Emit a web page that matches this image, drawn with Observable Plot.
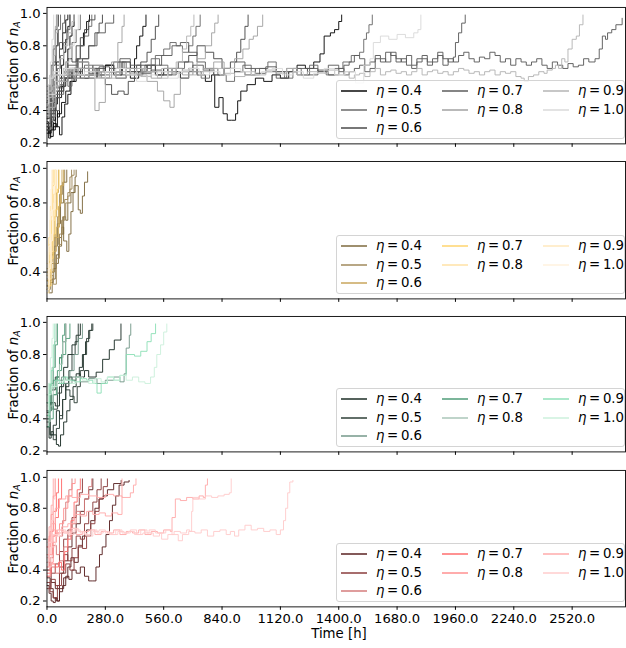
<!DOCTYPE html>
<html>
<head>
<meta charset="utf-8">
<script src="https://cdn.jsdelivr.net/npm/d3@7"></script>
<script src="https://cdn.jsdelivr.net/npm/@observablehq/plot@0.6"></script>
<style>
  body { margin: 0; background: #fff; font-family: "DejaVu Sans", sans-serif; }
  #fig { position: relative; width: 626px; height: 648px; overflow: hidden; }
  .panel { position: absolute; left: 0; }
  .ylab { position: absolute; white-space: nowrap; font-size: 13.3px; transform: translate(-50%, -50%) rotate(-90deg); }
  .ylab sub { font-size: 70%; vertical-align: -0.25em; }
  .xlab { position: absolute; white-space: nowrap; font-size: 13.3px; transform: translate(-50%, -50%); }
  .legend { position: absolute; left: 336px; width: 287px; height: 57px; border: 1px solid #d4d4d4; border-radius: 3px; background: rgba(255,255,255,0.8); }
  .item { position: absolute; height: 16px; font-size: 13.3px; line-height: 16px; white-space: nowrap; }
  .item svg { position: absolute; left: 0; top: 3px; }
  .item span { position: absolute; left: 35px; top: 0; }
</style>
</head>
<body>
<div id="fig"></div>
<script>
// Noise strength values, one colour per value in each panel
const etas = [0.4, 0.5, 0.6, 0.7, 0.8, 0.9, 1.0];
const greyShades  = ["#0a0a0a", "#6a6a6a", "#4a4a4a", "#5c5c5c", "#a2a2a2", "#b4b4b4", "#dadada"];
const goldShades  = ["#7e6a3e", "#a08a5c", "#c9a65c", "#ffd46e", "#ffe2a6", "#ffe9be", "#fff2de"];
const greenShades = ["#1c2e26", "#2e3f37", "#74998a", "#4f9c78", "#aac6b8", "#8fe0b8", "#ccf0dc"];
const redShades   = ["#5a2222", "#8a3c3c", "#d47c7c", "#ff6e6e", "#ff9090", "#ffabab", "#ffcccc"];

const xTicks = [0, 280, 560, 840, 1120, 1400, 1680, 1960, 2240, 2520];
const yTicksFull = [0.2, 0.4, 0.6, 0.8, 1.0];
const yTicksUpper = [0.4, 0.6, 0.8, 1.0];

// Each run: [eta, [t0, v0, t1, v1, ...]] with t in hours and v the fraction of n_A
const greyRuns = [
  [0.4, [0,0.30, 10,0.26, 20,0.33, 30,0.28, 40,0.40, 50,0.36, 60,0.48, 70,0.55, 80,0.62, 90,0.70, 100,0.78, 110,0.86, 120,0.92, 130,0.99]],
  [0.4, [0,0.33, 8,0.23, 18,0.28, 30,0.32, 45,0.30, 60,0.25, 72,0.36, 85,0.44, 100,0.50, 115,0.58, 130,0.66, 145,0.72, 160,0.80, 175,0.88, 190,0.95, 204,0.99]],
  [0.4, [0,0.42, 15,0.52, 30,0.60, 45,0.70, 60,0.78, 75,0.88, 90,0.96, 100,0.99]],
  [0.4, [0,0.26, 10,0.30, 20,0.36, 30,0.34, 40,0.44, 50,0.52, 60,0.60, 70,0.68, 80,0.76, 90,0.84, 100,0.92, 110,0.99]],
  [0.5, [0,0.38, 20,0.45, 40,0.40, 60,0.52, 80,0.60, 100,0.55, 120,0.65, 140,0.72, 160,0.80, 180,0.86, 200,0.92, 215,0.99]],
  [0.5, [0,0.50, 15,0.62, 30,0.70, 45,0.80, 55,0.90, 65,0.99]],
  [0.5, [0,0.28, 15,0.34, 30,0.40, 45,0.48, 60,0.56, 80,0.64, 100,0.72, 120,0.82, 140,0.90, 160,0.99]],
  [0.5, [0,0.42, 10,0.50, 20,0.46, 35,0.58, 50,0.66, 65,0.74, 80,0.82, 95,0.90, 110,0.99]],
  [0.6, [0,0.45, 20,0.55, 40,0.62, 60,0.58, 80,0.66, 100,0.72, 120,0.70, 140,0.80, 160,0.85, 180,0.90, 200,0.96, 230,0.99]],
  [0.6, [0,0.35, 10,0.45, 20,0.55, 30,0.68, 40,0.80, 50,0.92, 55,0.99]],
  [0.6, [0,0.32, 20,0.38, 40,0.48, 60,0.52, 80,0.60, 110,0.66, 140,0.64, 170,0.72, 200,0.80, 230,0.88, 250,0.94, 266,0.99]],
  [0.7, [0,0.40, 20,0.55, 50,0.62, 100,0.68, 150,0.72, 200,0.80, 240,0.88, 280,0.94, 320,0.99]],
  [0.7, [0,0.30, 15,0.42, 30,0.56, 45,0.68, 60,0.82, 75,0.94, 85,0.99]],
  [0.7, [0,0.46, 10,0.56, 20,0.68, 30,0.78, 40,0.90, 48,0.99]],
  [0.8, [0,0.55, 30,0.62, 60,0.58, 100,0.65, 150,0.70, 200,0.62, 230,0.40, 250,0.45, 280,0.60, 310,0.70, 340,0.82, 360,0.92, 370,0.99]],
  [0.8, [0,0.40, 10,0.52, 20,0.66, 30,0.80, 40,0.92, 45,0.99]],
  [0.9, [0,0.36, 10,0.48, 20,0.62, 30,0.74, 40,0.88, 50,0.99]],
  [0.9, [0,0.52, 20,0.60, 40,0.64, 60,0.72, 80,0.80, 100,0.88, 120,0.95, 130,0.99]],
  [1.0, [0,0.44, 8,0.56, 16,0.70, 24,0.84, 32,0.99]],
  [1.0, [0,0.60, 30,0.64, 60,0.62, 90,0.70, 110,0.80, 130,0.90, 150,0.99]],
  [0.4, [0,0.32, 20,0.40, 40,0.48, 60,0.55, 90,0.60, 120,0.64, 160,0.60, 200,0.66, 240,0.62, 280,0.68, 320,0.64, 360,0.70, 400,0.66, 420,0.72, 430,0.80, 445,0.86, 460,0.92, 475,0.99]],
  [0.6, [0,0.45, 40,0.58, 80,0.64, 120,0.60, 160,0.66, 200,0.62, 240,0.60, 280,0.56, 310,0.50, 340,0.52, 370,0.50, 390,0.58, 420,0.64, 450,0.70, 480,0.76, 500,0.84, 520,0.92, 536,0.99]],
  [0.9, [0,0.42, 40,0.58, 80,0.62, 130,0.66, 180,0.62, 230,0.64, 280,0.60, 330,0.64, 380,0.62, 430,0.66, 480,0.64, 530,0.60, 580,0.64, 620,0.70, 650,0.78, 670,0.86, 690,0.92, 705,0.99]],
  [0.5, [0,0.36, 40,0.50, 80,0.60, 120,0.66, 170,0.62, 220,0.68, 270,0.64, 320,0.70, 370,0.66, 420,0.64, 470,0.68, 520,0.74, 560,0.78, 590,0.82, 620,0.80, 650,0.76, 680,0.80, 700,0.86, 715,0.92, 735,0.99]],
  [0.8, [0,0.48, 40,0.58, 80,0.64, 130,0.60, 180,0.66, 230,0.62, 280,0.64, 330,0.60, 380,0.66, 430,0.62, 480,0.58, 530,0.52, 560,0.46, 590,0.42, 610,0.50, 640,0.60, 680,0.66, 720,0.72, 760,0.80, 790,0.88, 805,0.94, 821,0.99]],
  [0.6, [0,0.40, 40,0.54, 80,0.62, 130,0.66, 180,0.62, 230,0.66, 280,0.64, 330,0.60, 380,0.64, 430,0.68, 480,0.64, 530,0.62, 580,0.66, 630,0.70, 680,0.74, 720,0.80, 760,0.76, 800,0.72, 840,0.66, 880,0.70, 910,0.76, 930,0.84, 950,0.92, 965,0.99]],
  [0.8, [0,0.52, 50,0.62, 100,0.66, 150,0.62, 200,0.64, 250,0.60, 300,0.64, 350,0.66, 400,0.62, 450,0.64, 500,0.60, 550,0.64, 600,0.66, 650,0.62, 700,0.64, 750,0.66, 800,0.70, 850,0.66, 900,0.72, 940,0.78, 970,0.84, 990,0.86, 1010,0.92, 1035,0.99]],
  [0.4, [0,0.28, 15,0.24, 30,0.30, 50,0.38, 70,0.45, 90,0.52, 110,0.58, 140,0.62, 170,0.66, 200,0.60, 240,0.64, 280,0.68, 320,0.62, 360,0.66, 400,0.60, 440,0.64, 480,0.68, 520,0.62, 560,0.66, 600,0.64, 640,0.60, 680,0.66, 720,0.62, 760,0.58, 790,0.62, 805,0.42, 825,0.48, 845,0.38, 865,0.34, 885,0.34, 905,0.38, 915,0.46, 930,0.52, 960,0.56, 1000,0.60, 1040,0.58, 1080,0.62, 1120,0.60, 1160,0.64, 1200,0.68, 1240,0.66, 1280,0.70, 1310,0.75, 1330,0.86, 1360,0.88, 1380,0.90, 1400,0.95, 1414,0.99]],
  [0.5, [0,0.35, 20,0.45, 40,0.55, 70,0.60, 100,0.66, 140,0.62, 180,0.68, 220,0.64, 260,0.60, 300,0.66, 340,0.70, 380,0.64, 420,0.62, 460,0.66, 500,0.72, 540,0.68, 580,0.62, 620,0.66, 660,0.70, 700,0.64, 740,0.60, 780,0.66, 820,0.62, 860,0.58, 900,0.64, 940,0.68, 980,0.62, 1020,0.66, 1060,0.70, 1100,0.64, 1140,0.60, 1180,0.66, 1220,0.62, 1260,0.68, 1300,0.64, 1340,0.62, 1380,0.66, 1420,0.70, 1460,0.74, 1500,0.76, 1520,0.84, 1533,0.88, 1545,0.93, 1561,0.99]],
  [1.0, [0,0.50, 40,0.62, 80,0.66, 130,0.62, 180,0.64, 230,0.60, 280,0.64, 330,0.66, 380,0.62, 430,0.58, 480,0.62, 530,0.64, 580,0.60, 630,0.64, 680,0.66, 730,0.62, 780,0.64, 830,0.62, 880,0.66, 930,0.64, 980,0.62, 1030,0.64, 1080,0.66, 1130,0.62, 1180,0.64, 1230,0.60, 1280,0.63, 1330,0.66, 1380,0.62, 1430,0.64, 1480,0.57, 1520,0.68, 1550,0.72, 1566,0.82, 1600,0.86, 1640,0.84, 1680,0.87, 1720,0.85, 1760,0.88, 1780,0.90, 1794,0.99]],
  [0.7, [0,0.40, 30,0.52, 60,0.60, 100,0.64, 150,0.70, 200,0.66, 250,0.62, 300,0.66, 350,0.72, 400,0.68, 450,0.64, 500,0.68, 550,0.74, 600,0.80, 640,0.82, 680,0.76, 720,0.70, 760,0.66, 800,0.62, 850,0.66, 900,0.64, 950,0.62, 1000,0.66, 1050,0.64, 1100,0.60, 1150,0.64, 1200,0.66, 1250,0.62, 1300,0.65, 1350,0.68, 1400,0.64, 1425,0.68, 1450,0.70, 1475,0.74, 1500,0.72, 1525,0.68, 1550,0.70, 1575,0.74, 1600,0.72, 1625,0.70, 1650,0.76, 1675,0.72, 1700,0.70, 1725,0.74, 1750,0.68, 1775,0.72, 1800,0.74, 1825,0.70, 1850,0.72, 1875,0.76, 1900,0.72, 1925,0.70, 1950,0.73, 1960,0.82, 1975,0.88, 1990,0.94, 2007,0.99]],
  [0.9, [0,0.45, 30,0.55, 60,0.62, 100,0.66, 150,0.62, 200,0.60, 250,0.64, 300,0.62, 350,0.66, 400,0.63, 450,0.61, 500,0.64, 550,0.66, 600,0.63, 650,0.65, 700,0.62, 750,0.64, 800,0.66, 850,0.63, 900,0.61, 950,0.64, 1000,0.62, 1050,0.65, 1100,0.63, 1150,0.66, 1200,0.62, 1250,0.64, 1300,0.63, 1350,0.65, 1400,0.62, 1425,0.64, 1450,0.60, 1475,0.62, 1500,0.63, 1525,0.61, 1550,0.64, 1575,0.66, 1600,0.62, 1625,0.64, 1650,0.65, 1675,0.63, 1700,0.64, 1725,0.62, 1750,0.64, 1775,0.66, 1800,0.62, 1825,0.64, 1850,0.65, 1875,0.63, 1900,0.64, 1925,0.62, 1950,0.64, 1975,0.66, 2000,0.65, 2025,0.63, 2050,0.64, 2075,0.62, 2100,0.64, 2125,0.65, 2150,0.62, 2175,0.64, 2200,0.63, 2225,0.64, 2250,0.61, 2275,0.60, 2290,0.58, 2310,0.61, 2335,0.62, 2360,0.64, 2385,0.63, 2400,0.65, 2425,0.66, 2440,0.68, 2455,0.66, 2470,0.72, 2485,0.70, 2500,0.78, 2520,0.84, 2540,0.86, 2555,0.93, 2572,0.99]],
  [0.7, [0,0.38, 30,0.48, 60,0.58, 100,0.62, 150,0.66, 200,0.63, 250,0.67, 300,0.64, 350,0.62, 400,0.66, 450,0.63, 500,0.65, 550,0.62, 600,0.66, 650,0.64, 700,0.68, 750,0.65, 800,0.62, 850,0.66, 900,0.70, 950,0.66, 1000,0.63, 1050,0.67, 1100,0.64, 1150,0.66, 1200,0.62, 1250,0.66, 1300,0.64, 1350,0.62, 1400,0.66, 1425,0.62, 1450,0.64, 1475,0.66, 1500,0.68, 1525,0.64, 1550,0.66, 1575,0.72, 1600,0.70, 1625,0.76, 1650,0.74, 1675,0.70, 1700,0.72, 1725,0.68, 1750,0.66, 1775,0.70, 1800,0.72, 1825,0.68, 1850,0.70, 1875,0.74, 1900,0.68, 1925,0.72, 1950,0.70, 1975,0.74, 2000,0.76, 2025,0.72, 2050,0.70, 2075,0.73, 2100,0.72, 2125,0.76, 2150,0.74, 2175,0.70, 2200,0.72, 2225,0.68, 2250,0.72, 2275,0.70, 2300,0.68, 2325,0.70, 2350,0.72, 2375,0.68, 2400,0.66, 2425,0.70, 2450,0.68, 2475,0.66, 2500,0.69, 2525,0.67, 2550,0.68, 2575,0.72, 2600,0.70, 2630,0.72, 2650,0.78, 2665,0.86, 2680,0.84, 2690,0.88, 2710,0.90, 2730,0.93, 2760,0.97]]
];

const goldRuns = [
  [0.4, [0,0.32, 10,0.28, 25,0.36, 40,0.45, 55,0.55, 70,0.62, 80,0.72, 90,0.70, 100,0.80, 115,0.86, 130,0.90, 150,0.76, 160,0.74, 170,0.84, 180,0.92, 195,0.98]],
  [0.4, [0,0.30, 15,0.34, 30,0.42, 45,0.50, 60,0.60, 70,0.66, 80,0.58, 95,0.52, 105,0.62, 115,0.75, 125,0.86, 135,0.95, 140,0.99]],
  [0.4, [0,0.35, 20,0.40, 35,0.55, 50,0.68, 65,0.80, 80,0.92, 95,0.99]],
  [0.5, [0,0.30, 15,0.38, 30,0.33, 45,0.48, 60,0.62, 75,0.72, 90,0.80, 100,0.86, 110,0.88, 120,0.96, 130,0.99]],
  [0.5, [0,0.40, 20,0.50, 35,0.60, 50,0.72, 60,0.85, 75,0.92, 85,0.99]],
  [0.5, [0,0.36, 20,0.45, 40,0.60, 55,0.56, 70,0.70, 85,0.82, 100,0.84, 110,0.95, 118,0.99]],
  [0.6, [0,0.32, 15,0.40, 30,0.52, 45,0.66, 60,0.80, 70,0.90, 80,0.99]],
  [0.6, [0,0.38, 10,0.46, 25,0.58, 35,0.72, 45,0.86, 55,0.99]],
  [0.6, [0,0.42, 15,0.50, 30,0.62, 40,0.60, 55,0.78, 65,0.90, 72,0.99]],
  [0.7, [0,0.30, 8,0.40, 16,0.55, 24,0.70, 32,0.85, 40,0.99]],
  [0.7, [0,0.35, 10,0.32, 20,0.48, 30,0.62, 40,0.76, 50,0.88, 58,0.99]],
  [0.7, [0,0.40, 10,0.56, 20,0.72, 28,0.90, 34,0.99]],
  [0.8, [0,0.28, 10,0.36, 20,0.52, 30,0.70, 38,0.86, 45,0.99]],
  [0.8, [0,0.45, 8,0.60, 16,0.78, 24,0.92, 30,0.99]],
  [0.9, [0,0.33, 12,0.45, 22,0.62, 32,0.80, 40,0.99]],
  [0.9, [0,0.38, 6,0.52, 14,0.70, 20,0.88, 26,0.99]],
  [1.0, [0,0.30, 10,0.42, 18,0.58, 26,0.76, 34,0.90, 40,0.99]],
  [1.0, [0,0.36, 8,0.55, 16,0.75, 22,0.99]]
];

const greenRuns = [
  [0.4, [0,0.35, 10,0.28, 20,0.32, 30,0.30, 45,0.24, 55,0.23, 65,0.30, 80,0.38, 95,0.45, 110,0.52, 125,0.60, 140,0.66, 155,0.72, 170,0.80, 185,0.88, 200,0.95, 215,0.99]],
  [0.4, [0,0.40, 15,0.30, 30,0.36, 45,0.45, 60,0.40, 75,0.52, 90,0.60, 105,0.66, 120,0.64, 140,0.68, 160,0.66, 180,0.70, 200,0.66, 236,0.69, 267,0.77, 299,0.83, 323,0.89, 355,0.99]],
  [0.4, [0,0.45, 20,0.50, 40,0.48, 60,0.60, 80,0.72, 100,0.80, 120,0.86, 140,0.92, 160,0.99]],
  [0.5, [0,0.38, 15,0.30, 30,0.27, 45,0.34, 60,0.42, 75,0.52, 90,0.62, 105,0.70, 120,0.80, 135,0.88, 150,0.99]],
  [0.5, [0,0.44, 15,0.50, 30,0.46, 50,0.56, 70,0.62, 90,0.58, 110,0.54, 130,0.50, 145,0.60, 160,0.70, 175,0.80, 190,0.90, 205,0.95, 220,0.99]],
  [0.5, [0,0.50, 20,0.58, 40,0.66, 60,0.78, 75,0.88, 90,0.99]],
  [0.6, [0,0.40, 15,0.46, 30,0.55, 50,0.62, 70,0.66, 90,0.64, 110,0.70, 130,0.80, 150,0.90, 170,0.99]],
  [0.6, [0,0.55, 20,0.60, 50,0.64, 80,0.62, 120,0.66, 160,0.63, 200,0.65, 240,0.62, 280,0.64, 320,0.66, 350,0.63, 370,0.68, 380,0.84, 395,0.92, 402,0.99]],
  [0.7, [0,0.35, 10,0.45, 20,0.58, 30,0.72, 40,0.86, 50,0.99]],
  [0.7, [0,0.42, 15,0.40, 30,0.55, 45,0.66, 60,0.78, 75,0.92, 85,0.99]],
  [0.7, [0,0.50, 15,0.62, 30,0.64, 50,0.70, 70,0.80, 90,0.90, 110,0.99]],
  [0.8, [0,0.45, 12,0.58, 24,0.72, 36,0.88, 45,0.99]],
  [0.8, [0,0.38, 15,0.48, 30,0.60, 45,0.64, 60,0.74, 75,0.88, 90,0.99]],
  [0.9, [0,0.50, 10,0.62, 20,0.60, 40,0.64, 60,0.62, 80,0.66, 100,0.64, 130,0.63, 160,0.65, 190,0.64, 220,0.62, 240,0.56, 260,0.62, 290,0.66, 320,0.64, 350,0.67, 380,0.80, 420,0.79, 450,0.82, 480,0.88, 500,0.93, 521,0.99]],
  [0.9, [0,0.42, 10,0.56, 20,0.70, 30,0.86, 38,0.99]],
  [1.0, [0,0.55, 20,0.60, 50,0.63, 80,0.64, 110,0.62, 140,0.66, 170,0.64, 200,0.62, 230,0.65, 260,0.63, 290,0.66, 320,0.64, 350,0.67, 380,0.64, 410,0.66, 440,0.63, 470,0.62, 497,0.66, 515,0.72, 527,0.80, 545,0.86, 560,0.94, 575,0.99]],
  [1.0, [0,0.48, 8,0.62, 16,0.78, 24,0.90, 30,0.99]]
];

const redRuns = [
  [0.4, [0,0.30, 10,0.25, 20,0.20, 30,0.19, 40,0.22, 50,0.20, 60,0.26, 75,0.30, 90,0.36, 105,0.34, 120,0.40, 140,0.38, 160,0.42, 180,0.36, 200,0.33, 220,0.33, 235,0.42, 252,0.50, 265,0.55, 283,0.63, 300,0.72, 314,0.82, 330,0.88, 346,0.95, 370,0.97, 394,0.98]],
  [0.4, [0,0.35, 15,0.28, 30,0.22, 45,0.20, 60,0.28, 80,0.35, 100,0.42, 115,0.48, 130,0.45, 150,0.55, 170,0.62, 190,0.66, 210,0.72, 230,0.80, 250,0.86, 270,0.88, 290,0.92, 320,0.96, 356,0.98]],
  [0.4, [0,0.40, 20,0.32, 40,0.28, 60,0.38, 80,0.46, 100,0.55, 120,0.64, 140,0.70, 160,0.78, 180,0.86, 200,0.92, 220,0.99]],
  [0.5, [0,0.32, 15,0.26, 30,0.22, 50,0.30, 70,0.38, 90,0.44, 110,0.40, 130,0.48, 150,0.56, 170,0.54, 190,0.62, 210,0.70, 230,0.78, 250,0.86, 270,0.94, 290,0.99]],
  [0.5, [0,0.45, 20,0.38, 40,0.44, 60,0.52, 80,0.60, 100,0.66, 120,0.74, 140,0.82, 155,0.90, 170,0.99]],
  [0.5, [0,0.28, 20,0.34, 40,0.30, 60,0.42, 80,0.50, 100,0.46, 120,0.54, 140,0.62, 160,0.60, 180,0.70, 200,0.78, 220,0.84, 240,0.92, 260,0.99]],
  [0.6, [0,0.40, 15,0.48, 30,0.56, 45,0.50, 60,0.62, 75,0.72, 90,0.84, 105,0.92, 120,0.99]],
  [0.6, [0,0.36, 20,0.42, 40,0.38, 60,0.46, 80,0.55, 100,0.62, 120,0.70, 140,0.78, 160,0.76, 180,0.86, 200,0.94, 215,0.99]],
  [0.7, [0,0.42, 10,0.50, 25,0.62, 40,0.74, 55,0.86, 70,0.99]],
  [0.7, [0,0.38, 20,0.44, 40,0.42, 55,0.45, 70,0.40, 85,0.52, 100,0.60, 115,0.72, 130,0.84, 145,0.92, 160,0.99]],
  [0.7, [0,0.55, 15,0.65, 30,0.78, 45,0.90, 55,0.99]],
  [0.8, [0,0.50, 10,0.62, 20,0.76, 30,0.88, 40,0.99]],
  [0.8, [0,0.36, 15,0.45, 30,0.58, 45,0.64, 60,0.70, 80,0.80, 100,0.88, 120,0.96, 135,0.99]],
  [0.9, [0,0.48, 10,0.60, 25,0.66, 45,0.64, 70,0.68, 100,0.70, 130,0.76, 160,0.75, 190,0.78, 220,0.76, 250,0.77, 280,0.75, 310,0.77, 340,0.76, 360,0.99]],
  [0.9, [0,0.60, 20,0.70, 40,0.80, 60,0.86, 90,0.88, 120,0.87, 160,0.89, 200,0.88, 240,0.87, 280,0.89, 320,0.88, 360,0.87, 400,0.90, 415,0.95, 427,0.99]],
  [0.9, [0,0.55, 10,0.68, 20,0.82, 30,0.99]],
  [0.9, [0,0.50, 15,0.58, 30,0.62, 50,0.66, 80,0.64, 110,0.67, 140,0.63, 170,0.65, 200,0.66, 230,0.63, 260,0.65, 290,0.64, 320,0.66, 350,0.63, 380,0.65, 410,0.64, 440,0.66, 470,0.63, 500,0.65, 530,0.64, 560,0.66, 592,0.65, 600,0.74, 616,0.86, 640,0.85, 670,0.87, 700,0.86, 730,0.88, 750,0.87, 760,0.95, 770,0.99]],
  [1.0, [0,0.45, 10,0.58, 20,0.72, 30,0.86, 38,0.99]],
  [1.0, [0,0.42, 20,0.55, 40,0.62, 70,0.65, 100,0.63, 130,0.66, 160,0.64, 190,0.62, 220,0.65, 250,0.66, 280,0.64, 310,0.63, 340,0.65, 370,0.64, 400,0.66, 430,0.63, 460,0.64, 490,0.66, 520,0.64, 550,0.60, 580,0.63, 610,0.65, 640,0.64, 670,0.66, 685,0.65, 694,0.78, 700,0.87, 730,0.86, 760,0.88, 790,0.87, 820,0.88, 850,0.89, 875,0.90, 884,0.99]],
  [1.0, [0,0.58, 25,0.63, 60,0.66, 90,0.64, 120,0.67, 150,0.65, 180,0.63, 210,0.66, 240,0.64, 270,0.65, 300,0.63, 330,0.66, 360,0.64, 390,0.65, 420,0.63, 450,0.66, 480,0.64, 510,0.62, 540,0.64, 570,0.66, 600,0.63, 630,0.59, 650,0.63, 680,0.65, 710,0.64, 740,0.66, 770,0.62, 800,0.65, 830,0.66, 860,0.63, 880,0.65, 900,0.62, 920,0.66, 950,0.69, 980,0.66, 1010,0.67, 1040,0.65, 1070,0.66, 1100,0.63, 1120,0.66, 1135,0.72, 1145,0.80, 1155,0.90, 1165,0.97, 1180,0.98]]
];

// Panel layout: page offset of each svg, its height and margins, and the y extent
const panels = [
  { runs: greyRuns,  shades: greyShades,  top: 0,   height: 156, mt: 7, mb: 11, yDomain: [0.194, 1.037], yTicks: yTicksFull,  labels: false },
  { runs: goldRuns,  shades: goldShades,  top: 156, height: 154, mt: 5, mb: 10, yDomain: [0.245, 1.040], yTicks: yTicksUpper, labels: false },
  { runs: greenRuns, shades: greenShades, top: 310, height: 152, mt: 6, mb: 9,  yDomain: [0.194, 1.037], yTicks: yTicksFull,  labels: false },
  { runs: redRuns,   shades: redShades,   top: 462, height: 186, mt: 8, mb: 40, yDomain: [0.162, 1.045], yTicks: yTicksFull,  labels: true }
];

const xDomain = [0, 2776];
const fig = document.getElementById("fig");
const fmt = d3.format(".1f");

function toRows(runs) {
  const order = runs.map((r, i) => ({ eta: r[0], pts: r[1], id: i }))
    .sort((a, b) => a.eta - b.eta || a.id - b.id);
  const rows = [];
  for (const r of order) {
    for (let k = 0; k < r.pts.length; k += 2) rows.push({ run: r.id, eta: r.eta, t: r.pts[k], v: r.pts[k + 1] });
  }
  return rows;
}

panels.forEach((p) => {
  const rows = toRows(p.runs);
  const chart = Plot.plot({
    width: 633,
    height: p.height,
    marginLeft: 47,
    marginRight: 1,
    marginTop: p.mt,
    marginBottom: p.mb,
    style: { fontFamily: "DejaVu Sans, sans-serif", fontSize: "13.3px", color: "#000", background: "transparent", overflow: "visible" },
    x: { domain: xDomain },
    y: { domain: p.yDomain },
    color: { type: "ordinal", domain: etas, range: p.shades },
    marks: [
      Plot.line(rows, { x: "t", y: "v", z: "run", stroke: "eta", strokeWidth: 1, strokeOpacity: 0.95, curve: "step-after", clip: true }),
      Plot.frame({ stroke: "#000", strokeWidth: 0.9 }),
      Plot.axisY({ ticks: p.yTicks, tickSize: 3.5, tickPadding: 3, tickFormat: fmt, label: null }),
      Plot.axisX({ ticks: xTicks, tickSize: 3.5, tickPadding: 3, tickFormat: p.labels ? fmt : () => "", label: null })
    ]
  });
  chart.classList.add("panel");
  chart.style.top = p.top + "px";
  fig.appendChild(chart);

  const plotTop = p.top + p.mt;
  const plotBottom = p.top + p.height - p.mb;

  // y axis title, rotated
  const yl = document.createElement("div");
  yl.className = "ylab";
  yl.innerHTML = "Fraction of <i>n</i><sub><i>A</i></sub>";
  yl.style.left = "14px";
  yl.style.top = ((plotTop + plotBottom) / 2 - 10) + "px";
  fig.appendChild(yl);

  // legend: three columns filled top to bottom
  const lg = document.createElement("div");
  lg.className = "legend";
  lg.style.top = (plotBottom - 65) + "px";
  etas.forEach((e, i) => {
    const col = i < 3 ? 0 : i < 5 ? 1 : 2;
    const row = i < 3 ? i : i < 5 ? i - 3 : i - 5;
    const it = document.createElement("div");
    it.className = "item";
    it.style.left = (4 + col * 101) + "px";
    it.style.top = (2 + row * 18.7) + "px";
    it.innerHTML = `<svg width="26" height="10"><line x1="0" x2="26" y1="5" y2="5" stroke="${p.shades[i]}" stroke-width="1.5"/></svg>` +
      `<span><i>η</i>&#8201;=&#8201;${e.toFixed(1)}</span>`;
    lg.appendChild(it);
  });
  fig.appendChild(lg);
});

// shared x axis title under the last panel
const xl = document.createElement("div");
xl.className = "xlab";
xl.textContent = "Time [h]";
xl.style.left = "339px";
xl.style.top = "633px";
fig.appendChild(xl);
</script>
</body>
</html>
